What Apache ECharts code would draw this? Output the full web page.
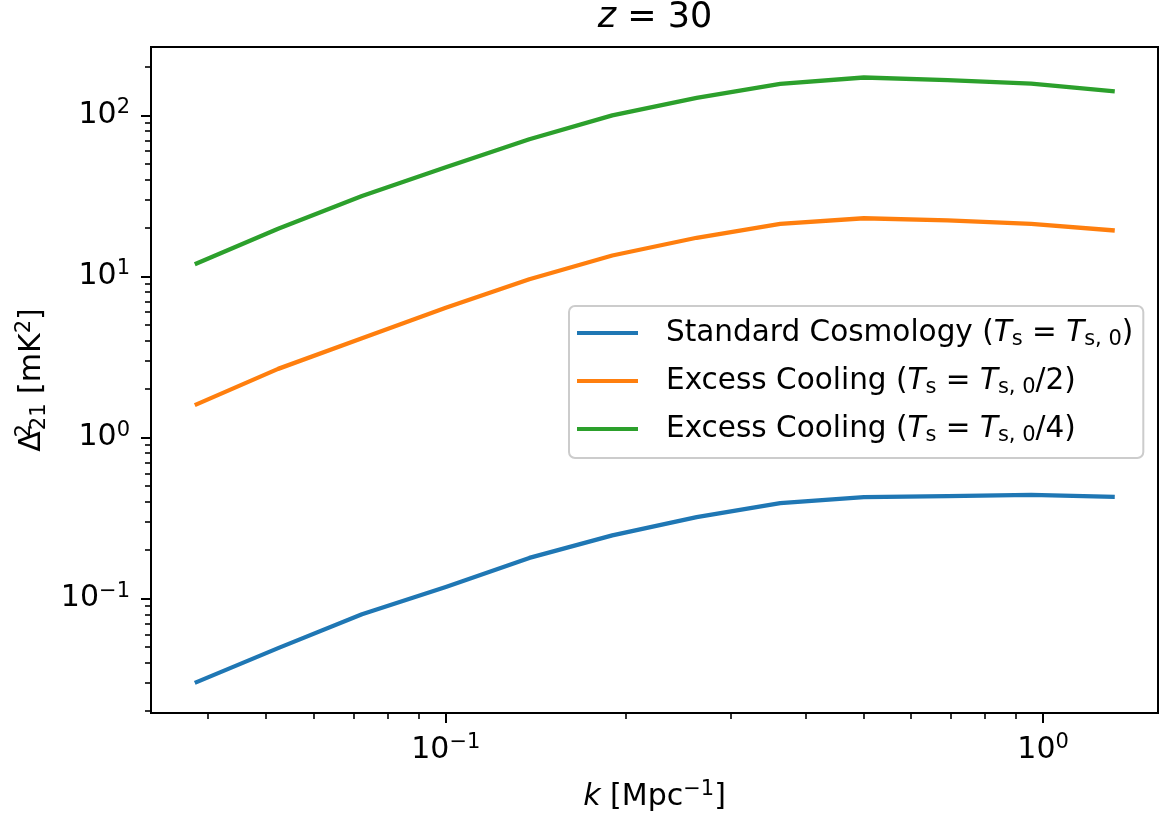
<!DOCTYPE html>
<html><head><meta charset="utf-8">
<script src="https://cdn.jsdelivr.net/npm/echarts@6/dist/echarts.min.js"></script>
<style>html,body{margin:0;padding:0;background:#fff}#c{width:1159px;height:820px}</style>
</head><body><div id="c"></div>
<script>
const kValues = [0.038, 0.0524, 0.0724, 0.1, 0.138, 0.19, 0.263, 0.363, 0.501, 0.692, 0.955, 1.318];
const standardCosmology = [0.030, 0.0493, 0.080, 0.118, 0.179, 0.247, 0.321, 0.392, 0.427, 0.433, 0.441, 0.428];
const excessCooling2 = [1.59, 2.67, 4.14, 6.39, 9.62, 13.5, 17.4, 21.2, 23.0, 22.3, 21.2, 19.3];
const excessCooling4 = [11.9, 19.8, 31.6, 47.7, 71.2, 100, 128.6, 157, 172, 165.6, 157.6, 141];
const seriesNames = ['Standard Cosmology (Ts = Ts,0)', 'Excess Cooling (Ts = Ts,0/2)', 'Excess Cooling (Ts = Ts,0/4)'];
const legendLabels = [
  '{g| }Standard Cosmology ({i|T}{s|s} = {i|T}{s|s, 0})',
  '{g| }Excess Cooling ({i|T}{s|s} = {i|T}{s|s, 0}/2)',
  '{g| }Excess Cooling ({i|T}{s|s} = {i|T}{s|s, 0}/4)'
];
const seriesColors = ['#1f77b4', '#ff7f0e', '#2ca02c'];
const xMajorTicks = [0.1, 1];
const xMinorTicks = [0.04, 0.05, 0.06, 0.07, 0.08, 0.09, 0.2, 0.3, 0.4, 0.5, 0.6, 0.7, 0.8, 0.9];
const yMajorTicks = [0.1, 1, 10, 100];
const yMinorTicks = [0.02, 0.03, 0.04, 0.05, 0.06, 0.07, 0.08, 0.09,
  0.2, 0.3, 0.4, 0.5, 0.6, 0.7, 0.8, 0.9, 2, 3, 4, 5, 6, 7, 8, 9,
  20, 30, 40, 50, 60, 70, 80, 90, 200];
const xRange = [0.0321, 1.557];
const yRange = [0.0195, 266];

const FONT = 'DejaVu Sans';
const tickRich = {
  b: {fontFamily: FONT, fontSize: 30, lineHeight: 36, color: '#000', verticalAlign: 'middle'},
  e: {fontFamily: FONT, fontSize: 21, lineHeight: 21, color: '#000', verticalAlign: 'top'}
};
function powLabel(v) {
  const e = Math.round(Math.log10(v));
  return '{b|10}{e|' + String(e).replace('-', '\u2212') + '}';
}

const chart = echarts.init(document.getElementById('c'), null, {renderer: 'canvas'});
const mk = (arr) => kValues.map((k, i) => [k, arr[i]]);
const dataSets = [standardCosmology, excessCooling2, excessCooling4];

chart.setOption({
  animation: false,
  backgroundColor: '#fff',
  title: {
    text: '{i|z} = 30', left: 655, top: 0, textAlign: 'center', padding: 0,
    textStyle: {fontFamily: FONT, fontSize: 35, fontWeight: 'normal', color: '#000', lineHeight: 36,
      rich: {i: {fontFamily: FONT, fontSize: 35, fontStyle: 'italic', lineHeight: 36, color: '#000'}}}
  },
  grid: {left: 151, right: 1, top: 47, bottom: 103, show: true, borderColor: '#000', borderWidth: 2, backgroundColor: 'transparent'},
  legend: {
    orient: 'vertical', left: 569, top: 306, padding: [10, 10, 12, 8],
    itemWidth: 61, itemHeight: 4, itemGap: 14, icon: 'rect',
    backgroundColor: 'rgba(255,255,255,0.8)', borderColor: '#cccccc', borderWidth: 2, borderRadius: 6,
    data: seriesNames,
    formatter: (name) => legendLabels[seriesNames.indexOf(name)],
    textStyle: {
      fontFamily: FONT, fontSize: 29.5, color: '#000', lineHeight: 34,
      rich: {
        g: {width: 23, fontSize: 29.5, lineHeight: 34},
        i: {fontFamily: FONT, fontSize: 29.5, fontStyle: 'italic', lineHeight: 34, color: '#000'},
        s: {fontFamily: FONT, fontSize: 21, lineHeight: 20, verticalAlign: 'bottom', color: '#000'}
      }
    }
  },
  xAxis: [
    {
      type: 'log', min: xRange[0], max: xRange[1], position: 'bottom',
      axisLine: {show: true, lineStyle: {color: '#000', width: 2}},
      axisTick: {show: true, length: 10, lineStyle: {color: '#000', width: 2}, customValues: xMajorTicks},
      axisLabel: {show: true, customValues: xMajorTicks, margin: 19, formatter: powLabel, rich: tickRich},
      splitLine: {show: false}, minorTick: {show: false}, minorSplitLine: {show: false},
      name: '{i|k} [Mpc{e|\u22121}]', nameLocation: 'middle', nameGap: 66,
      nameTextStyle: {fontFamily: FONT, fontSize: 30, color: '#000', lineHeight: 36,
        rich: {i: {fontFamily: FONT, fontSize: 30, fontStyle: 'italic', lineHeight: 36, color: '#000'},
               e: {fontFamily: FONT, fontSize: 21, lineHeight: 21, verticalAlign: 'top', color: '#000'}}}
    },
    {
      type: 'log', min: xRange[0], max: xRange[1], position: 'bottom',
      axisLine: {show: false},
      axisTick: {show: true, length: 6, lineStyle: {color: '#000', width: 1.6}, customValues: xMinorTicks},
      axisLabel: {show: false}, splitLine: {show: false}
    }
  ],
  yAxis: [
    {
      type: 'log', min: yRange[0], max: yRange[1], position: 'left',
      axisLine: {show: true, lineStyle: {color: '#000', width: 2}},
      axisTick: {show: true, length: 10, lineStyle: {color: '#000', width: 2}, customValues: yMajorTicks},
      axisLabel: {show: true, customValues: yMajorTicks, margin: 21, formatter: powLabel, rich: tickRich},
      splitLine: {show: false}, minorTick: {show: false}, minorSplitLine: {show: false},
      name: '{d|\u0394}{p|2}{q|21} [mK{e|2}]', nameLocation: 'middle', nameRotate: 90, nameGap: 97,
      nameTextStyle: {fontFamily: FONT, fontSize: 30, color: '#000', lineHeight: 36,
        rich: {d: {fontFamily: FONT, fontSize: 30, lineHeight: 36, color: '#000'},
               p: {fontFamily: FONT, fontSize: 21, lineHeight: 21, verticalAlign: 'top', width: 1, color: '#000'},
               q: {fontFamily: FONT, fontSize: 21, lineHeight: 21, verticalAlign: 'bottom', color: '#000'},
               e: {fontFamily: FONT, fontSize: 21, lineHeight: 21, verticalAlign: 'top', color: '#000'}}}
    },
    {
      type: 'log', min: yRange[0], max: yRange[1], position: 'left',
      axisLine: {show: false},
      axisTick: {show: true, length: 6, lineStyle: {color: '#000', width: 1.6}, customValues: yMinorTicks},
      axisLabel: {show: false}, splitLine: {show: false}
    }
  ],
  series: seriesNames.map((n, i) => ({
    name: n, type: 'line', xAxisIndex: 0, yAxisIndex: 0,
    data: mk(dataSets[i]), showSymbol: false, symbol: 'none',
    lineStyle: {color: seriesColors[i], width: 4.3, join: 'round', cap: 'butt'},
    itemStyle: {color: seriesColors[i]}, z: 2 + i
  }))
});
</script></body></html>
